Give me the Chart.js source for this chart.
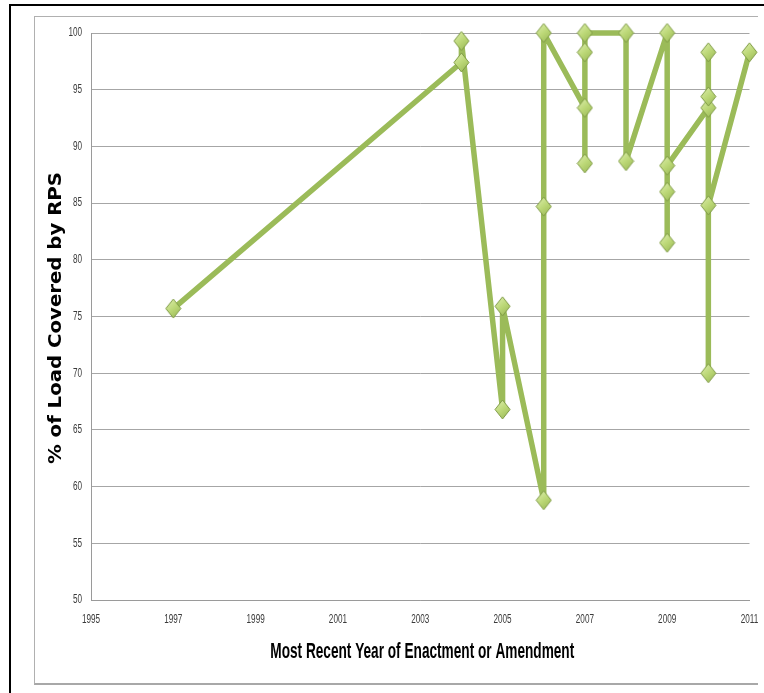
<!DOCTYPE html>
<html>
<head>
<meta charset="utf-8">
<script src="https://cdn.jsdelivr.net/npm/chart.js@4.4.1/dist/chart.umd.min.js"></script>
<style>
    body { margin: 0; background: #ffffff; }
    #wrap { position: relative; width: 764px; height: 693px; overflow: hidden; }
    #outer { position: absolute; left: 9px; top: 4px; width: 800px; height: 800px;
        border-left: 2px solid #000; border-top: 2px solid #000; }
    #inner { position: absolute; left: 34px; top: 16px; width: 723px; height: 666px;
        border-left: 1px solid #b0b0b0; border-top: 1px solid #b0b0b0; border-bottom: 2px solid #a8a8a8; }
    #chart { position: absolute; left: 0; top: 0; }
</style>
</head>
<body>
<div id="wrap">
    <div id="outer"></div>
    <div id="inner"></div>
    <canvas id="chart" width="764" height="693"></canvas>
</div>
<script>
// År (senaste antagande eller ändring), i den ordning linjen ritas
const years = [1997, 2004, 2004, 2005, 2005, 2006, 2006, 2006, 2007, 2007, 2007, 2007,
    2008, 2008, 2009, 2009, 2009, 2009, 2010, 2010, 2010, 2010, 2010, 2011];

// Andel av last som täcks av RPS (%)
const loadCovered = [75.7, 97.4, 99.3, 66.8, 75.9, 58.8, 84.7, 100, 93.4, 88.5, 98.3, 100,
    100, 88.7, 100, 81.5, 86.0, 88.3, 93.4, 98.3, 94.4, 70.0, 84.8, 98.3];

// Axlar
const xTicks = [1995, 1997, 1999, 2001, 2003, 2005, 2007, 2009, 2011];
const yTicks = [50, 55, 60, 65, 70, 75, 80, 85, 90, 95, 100];
const xTitle = "Most Recent Year of Enactment or Amendment";
const yTitle = "% of Load Covered by RPS";

// Romb-markör med gradient
function makeDiamond() {
    const c = document.createElement("canvas");
    c.width = 17;
    c.height = 21;
    const g = c.getContext("2d");
    const grad = g.createLinearGradient(0, 0, 17, 21);
    grad.addColorStop(0, "#e4f2b8");
    grad.addColorStop(0.5, "#bcd877");
    grad.addColorStop(1, "#93b24f");
    g.beginPath();
    g.moveTo(8.5, 1);
    g.lineTo(16, 10.5);
    g.lineTo(8.5, 20);
    g.lineTo(1, 10.5);
    g.closePath();
    g.fillStyle = grad;
    g.fill();
    g.lineWidth = 1;
    g.strokeStyle = "#7e9a45";
    g.stroke();
    return c;
}

// Hoptryckt text (bilden är utdragen på höjden)
function squeezedText(ctx, text, x, y, sx, sy, rot) {
    ctx.save();
    ctx.translate(x, y);
    if (rot) ctx.rotate(rot);
    ctx.scale(sx, sy);
    ctx.fillText(text, 0, 0);
    ctx.restore();
}

// Ritar etiketter och axeltitlar
const labelPlugin = {
    id: "labels",
    afterDraw(chart) {
        const ctx = chart.ctx;
        const xs = chart.scales.x;
        const ys = chart.scales.y;
        ctx.save();
        ctx.fillStyle = "#3a3a3a";
        ctx.font = "12px 'Liberation Sans', sans-serif";
        ctx.textAlign = "right";
        ctx.textBaseline = "middle";
        yTicks.forEach(v => squeezedText(ctx, String(v), ys.right - 9, ys.getPixelForValue(v), 0.68, 1));
        ctx.textAlign = "center";
        xTicks.forEach(v => squeezedText(ctx, String(v), xs.getPixelForValue(v), xs.top + 20, 0.68, 1));

        ctx.fillStyle = "#000";
        ctx.textBaseline = "alphabetic";
        ctx.font = "bold 22px 'Liberation Sans', sans-serif";
        squeezedText(ctx, xTitle, (xs.left + xs.right) / 2 + 2, 658, 0.62, 1);

        ctx.textBaseline = "middle";
        ctx.font = "bold 17px 'DejaVu Sans', sans-serif";
        squeezedText(ctx, yTitle, 57, 318, 1.16, 1, -Math.PI / 2);
        ctx.restore();
    }
};

const points = years.map((y, i) => ({ x: y, y: loadCovered[i] }));

new Chart(document.getElementById("chart"), {
    type: "line",
    data: {
        datasets: [{
            data: points,
            borderColor: "#9bbb59",
            borderWidth: 5.5,
            borderJoinStyle: "round",
            borderCapStyle: "round",
            pointStyle: makeDiamond(),
            pointRadius: 9,
            tension: 0,
            clip: false
        }]
    },
    options: {
        responsive: false,
        animation: false,
        layout: { padding: { left: 0, top: 33, right: 12, bottom: 0 } },
        plugins: { legend: { display: false }, tooltip: { enabled: false } },
        scales: {
            x: {
                type: "linear",
                min: xTicks[0],
                max: xTicks[xTicks.length - 1],
                afterBuildTicks: s => { s.ticks = xTicks.map(v => ({ value: v })); },
                afterFit: s => { s.height = 93; },
                ticks: { display: false },
                grid: { display: false, drawTicks: false },
                border: { display: true, color: "#9a9a9a" }
            },
            y: {
                min: yTicks[0],
                max: yTicks[yTicks.length - 1],
                afterBuildTicks: s => { s.ticks = yTicks.map(v => ({ value: v })); },
                afterFit: s => { s.width = 91; },
                ticks: { display: false },
                grid: { color: "#a6a6a6", lineWidth: 1, drawTicks: false },
                border: { display: true, color: "#9a9a9a" }
            }
        }
    },
    plugins: [labelPlugin]
});
</script>
</body>
</html>
